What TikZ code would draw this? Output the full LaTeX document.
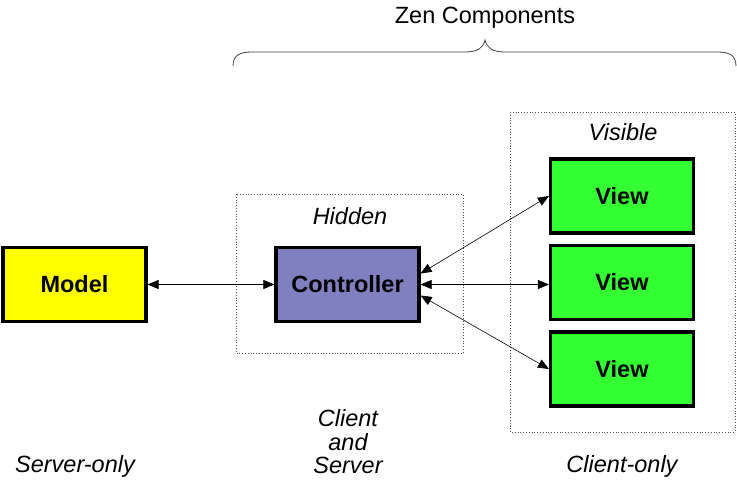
\documentclass[tikz,border=0pt]{standalone}
\usepackage{fontspec}
\setmainfont{Liberation Sans}
\usetikzlibrary{arrows.meta}
\definecolor{modelc}{HTML}{FFFF00}
\definecolor{ctrlc}{HTML}{8080C0}
\definecolor{viewc}{HTML}{33FF33}
\tikzset{
  comp/.style={draw=black, line width=3.2pt, minimum width=143pt, minimum height=74pt, font=\fontsize{23.5}{28}\selectfont\bfseries, inner sep=0pt},
  zone/.style={draw=black!70, dotted, line width=0.8pt},
  lbl/.style={font=\fontsize{23.5}{23.5}\selectfont\itshape, align=center},
  link/.style={line width=0.6pt, {Triangle[length=11pt,width=9pt]}-{Triangle[length=11pt,width=9pt]}}
}
\begin{document}
\begin{tikzpicture}[x=1pt,y=-1pt]
\useasboundingbox (0,0) rectangle (737,484);
% zones
\draw[zone] (236,194) rectangle (463,353);
\draw[zone] (510,112) rectangle (735,432);
\node[lbl] (hid) at (350,216) {Hidden};
\node[lbl] (vis) at (623,132) {Visible};
% components
\node[comp, fill=modelc] (model) at (74.5,284.5) {Model};
\node[comp, fill=ctrlc] (ctrl) at (347.5,284.5) {Controller};
\node[comp, fill=viewc] (v1) at (622,196) {View};
\node[comp, fill=viewc] (v2) at (622,282.5) {View};
\node[comp, fill=viewc] (v3) at (622,369) {View};
% links
\draw[link] (model.east) -- (ctrl.west);
\draw[link] ([yshift=11pt]ctrl.east) -- (v1.west);
\draw[link] (ctrl.east) -- (ctrl.east -| v2.west);
\draw[link] ([yshift=-11pt]ctrl.east) -- (v3.west);
% brace
\coordinate (bl) at (233,66);
\coordinate (br) at (736,66);
\coordinate (bt) at (485,40);
\draw[black!75, line width=0.8pt] (bl) .. controls (233,55) and (240,52) .. (252,52)
  -- (465,52) .. controls (478,52) and (483,48) .. (bt)
  .. controls (487,48) and (492,52) .. (505,52)
  -- (717,52) .. controls (729,52) and (736,55) .. (br);
\node[font=\fontsize{23.5}{28}\selectfont] (zen) at (485,18) {Zen Components};
% bottom labels
\node[lbl] (srv) at (75,466) {Server-only};
\node[lbl] (cs) at (348,442) {Client\\and\\Server};
\node[lbl] (cli) at (622,466) {Client-only};
\end{tikzpicture}
\end{document}
